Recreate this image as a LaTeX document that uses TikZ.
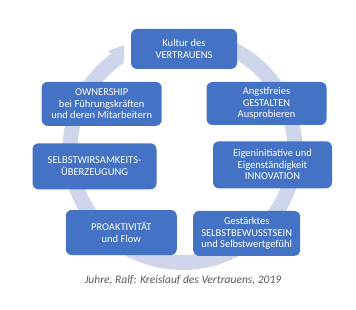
\documentclass[tikz,border=0pt]{standalone}
\usepackage{fontspec}
\setmainfont{Carlito}
\definecolor{boxblue}{HTML}{4472C4}
\definecolor{ringblue}{HTML}{CFD5EA}
\definecolor{capgray}{HTML}{595959}
\begin{document}
\begin{tikzpicture}[x=1pt,y=1pt,
  stage/.style={fill=boxblue, rounded corners=6pt, text=white, align=center,
    inner sep=0pt, font=\fontsize{10.5}{11.5}\selectfont},
  ring/.style={draw=ringblue, line width=15pt},
  caption/.style={font=\fontsize{11.5}{13}\selectfont\itshape, text=capgray, inner sep=0pt}
]
\useasboundingbox (0,0) rectangle (356,-310);
\fill[white] (0,0) rectangle (356,-310);
\coordinate (c) at (182.5,-150);
\draw[ring] ([shift={(85:112.5)}]c) arc[start angle=85, end angle=-236, radius=112.5];
\fill[ringblue] ([shift={(127:124)}]c) -- ([shift={(119:120)}]c) -- ([shift={(123.5:106)}]c) -- cycle;

\node[stage, minimum width=106pt, minimum height=40pt] (kultur) at (184,-49) {Kultur des\\VERTRAUENS};
\node[stage, minimum width=120pt, minimum height=43pt] (angst) at (266.5,-103.5) {Angstfreies\\GESTALTEN\\Ausprobieren};
\node[stage, minimum width=119pt, minimum height=47pt] (eigen) at (272.5,-164.8) {Eigeninitiative und\\Eigenst\"andigkeit\\INNOVATION};
\node[stage, minimum width=107pt, minimum height=45pt] (gest) at (246.7,-233.4) {Gest\"arktes\\SELBSTBEWUSSTSEIN\\und Selbstwertgef\"uhl};
\node[stage, minimum width=111pt, minimum height=45pt] (proakt) at (121.3,-232.5) {PROAKTIVIT\"AT\\und Flow};
\node[stage, minimum width=124pt, minimum height=46pt] (selbst) at (94.5,-166.3) {SELBSTWIRSAMKEITS-\\\"UBERZEUGUNG};
\node[stage, minimum width=120pt, minimum height=44pt] (owner) at (101.7,-103.8) {OWNERSHIP\\bei F\"uhrungskr\"aften\\und deren Mitarbeitern};

\node[caption] (cap) at (183,-280) {Juhre, Ralf: Kreislauf des Vertrauens, 2019};
\end{tikzpicture}
\end{document}
